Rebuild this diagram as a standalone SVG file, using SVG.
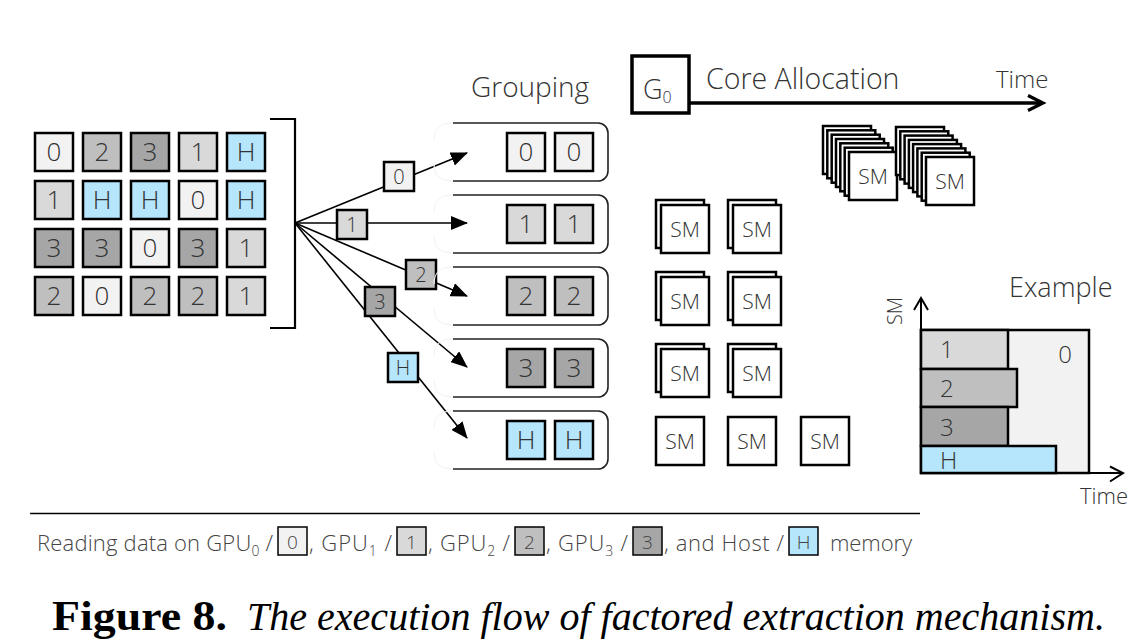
<svg xmlns="http://www.w3.org/2000/svg" xmlns:xlink="http://www.w3.org/1999/xlink" width="1148" height="644" viewBox="0 0 1148 644">
<style>
  .t { font-family: "Open Sans", "Noto Sans", "Liberation Sans", sans-serif; font-weight: 300; fill: #333; }
  .cell { stroke: #000; stroke-width: 2.5; }
  .c0 { fill: #f2f2f2; } .c1 { fill: #d9d9d9; } .c2 { fill: #bfbfbf; } .c3 { fill: #a6a6a6; } .cH { fill: #b5e6fb; }
  .d { font-size: 26px; text-anchor: middle; }
  .lb { font-size: 20px; text-anchor: middle; }
  .sm { fill: #fff; stroke: #000; stroke-width: 2.5; }
  .smt { font-size: 21px; text-anchor: middle; }
  .grp { fill: none; stroke: #222; stroke-width: 1.6; }
  .grpf { fill: none; stroke: #f3f3f3; stroke-width: 1.2; }
  .fan { stroke: #000; stroke-width: 1.6; fill: none; }
  .ax { stroke: #000; stroke-width: 2; fill: none; }
  .lg { font-size: 22px; fill: #444; }
  .lgb { font-size: 19px; fill: #444; text-anchor: middle; }
  .sub { font-size: 14px; }
  .lbox { stroke: #000; stroke-width: 1.5; }
</style>
<defs>
  <marker id="ah" markerUnits="userSpaceOnUse" markerWidth="18" markerHeight="14" refX="16" refY="7" orient="auto">
    <path d="M0,0 L17,7 L0,14 z" fill="#000"/>
  </marker>
  <rect id="sq" width="48" height="48" class="sm"/>
  <g id="smb"><rect width="48" height="48" class="sm"/><text x="24" y="32" class="t smt">SM</text></g>
</defs>

<!-- Data grid -->
<g id="grid">
  <rect x="35" y="133" width="38" height="38" class="cell c0"/><text x="54" y="161" class="t d">0</text>
  <rect x="83" y="133" width="38" height="38" class="cell c2"/><text x="102" y="161" class="t d">2</text>
  <rect x="131" y="133" width="38" height="38" class="cell c3"/><text x="150" y="161" class="t d">3</text>
  <rect x="179" y="133" width="38" height="38" class="cell c1"/><text x="198" y="161" class="t d">1</text>
  <rect x="227" y="133" width="38" height="38" class="cell cH"/><text x="246" y="161" class="t d">H</text>

  <rect x="35" y="181" width="38" height="38" class="cell c1"/><text x="54" y="209" class="t d">1</text>
  <rect x="83" y="181" width="38" height="38" class="cell cH"/><text x="102" y="209" class="t d">H</text>
  <rect x="131" y="181" width="38" height="38" class="cell cH"/><text x="150" y="209" class="t d">H</text>
  <rect x="179" y="181" width="38" height="38" class="cell c0"/><text x="198" y="209" class="t d">0</text>
  <rect x="227" y="181" width="38" height="38" class="cell cH"/><text x="246" y="209" class="t d">H</text>

  <rect x="35" y="229" width="38" height="38" class="cell c3"/><text x="54" y="257" class="t d">3</text>
  <rect x="83" y="229" width="38" height="38" class="cell c3"/><text x="102" y="257" class="t d">3</text>
  <rect x="131" y="229" width="38" height="38" class="cell c0"/><text x="150" y="257" class="t d">0</text>
  <rect x="179" y="229" width="38" height="38" class="cell c3"/><text x="198" y="257" class="t d">3</text>
  <rect x="227" y="229" width="38" height="38" class="cell c1"/><text x="246" y="257" class="t d">1</text>

  <rect x="35" y="277" width="38" height="38" class="cell c2"/><text x="54" y="305" class="t d">2</text>
  <rect x="83" y="277" width="38" height="38" class="cell c0"/><text x="102" y="305" class="t d">0</text>
  <rect x="131" y="277" width="38" height="38" class="cell c2"/><text x="150" y="305" class="t d">2</text>
  <rect x="179" y="277" width="38" height="38" class="cell c2"/><text x="198" y="305" class="t d">2</text>
  <rect x="227" y="277" width="38" height="38" class="cell c1"/><text x="246" y="305" class="t d">1</text>
</g>

<!-- Bracket -->
<g id="bracket">
  <path d="M270,119 H295 V328 H270" fill="none" stroke="#000" stroke-width="2.2"/>
</g>

<!-- Connectors -->
<g id="connectors">
  <line x1="295" y1="223" x2="467" y2="153" class="fan" marker-end="url(#ah)"/>
  <line x1="295" y1="223" x2="467" y2="223" class="fan" marker-end="url(#ah)"/>
  <line x1="295" y1="223" x2="467" y2="296" class="fan" marker-end="url(#ah)"/>
  <line x1="295" y1="223" x2="467" y2="367" class="fan" marker-end="url(#ah)"/>
  <line x1="295" y1="223" x2="467" y2="438" class="fan" marker-end="url(#ah)"/>
</g>

<!-- Connector labels -->
<g id="fan-labels">
  <rect x="384" y="162" width="30" height="29" class="cell c0" stroke-width="2"/><text x="399" y="184" class="t lb">0</text>
  <rect x="337" y="210" width="30" height="29" class="cell c1" stroke-width="2"/><text x="352" y="232" class="t lb">1</text>
  <rect x="406" y="260" width="30" height="29" class="cell c2" stroke-width="2"/><text x="421" y="282" class="t lb">2</text>
  <rect x="365" y="287" width="30" height="29" class="cell c3" stroke-width="2"/><text x="380" y="309" class="t lb">3</text>
  <rect x="388" y="353" width="30" height="29" class="cell cH" stroke-width="2"/><text x="403" y="375" class="t lb">H</text>
</g>

<!-- Grouping -->
<text x="471" y="97" class="t" font-size="28">Grouping</text>
<g id="group0">
  <path d="M453,123 C440,123 434,128 434,140" class="grpf"/><path d="M453,181 C440,181 434,176 434,164" class="grpf"/>
  <path d="M453,123 H598 A10,10 0 0 1 608,133 V171 A10,10 0 0 1 598,181 H453" class="grp"/>
  <rect x="507" y="133" width="38" height="38" class="cell c0"/><text x="526" y="161" class="t d">0</text>
  <rect x="555" y="133" width="38" height="38" class="cell c0"/><text x="574" y="161" class="t d">0</text>
</g>
<g id="group1">
  <path d="M453,195 C440,195 434,200 434,212" class="grpf"/><path d="M453,253 C440,253 434,248 434,236" class="grpf"/>
  <path d="M453,195 H598 A10,10 0 0 1 608,205 V243 A10,10 0 0 1 598,253 H453" class="grp"/>
  <rect x="507" y="205" width="38" height="38" class="cell c1"/><text x="526" y="233" class="t d">1</text>
  <rect x="555" y="205" width="38" height="38" class="cell c1"/><text x="574" y="233" class="t d">1</text>
</g>
<g id="group2">
  <path d="M453,267 C440,267 434,272 434,284" class="grpf"/><path d="M453,325 C440,325 434,320 434,308" class="grpf"/>
  <path d="M453,267 H598 A10,10 0 0 1 608,277 V315 A10,10 0 0 1 598,325 H453" class="grp"/>
  <rect x="507" y="277" width="38" height="38" class="cell c2"/><text x="526" y="305" class="t d">2</text>
  <rect x="555" y="277" width="38" height="38" class="cell c2"/><text x="574" y="305" class="t d">2</text>
</g>
<g id="group3">
  <path d="M453,339 C440,339 434,344 434,356" class="grpf"/><path d="M453,397 C440,397 434,392 434,380" class="grpf"/>
  <path d="M453,339 H598 A10,10 0 0 1 608,349 V387 A10,10 0 0 1 598,397 H453" class="grp"/>
  <rect x="507" y="349" width="38" height="38" class="cell c3"/><text x="526" y="377" class="t d">3</text>
  <rect x="555" y="349" width="38" height="38" class="cell c3"/><text x="574" y="377" class="t d">3</text>
</g>
<g id="groupH">
  <path d="M453,411 C440,411 434,416 434,428" class="grpf"/><path d="M453,469 C440,469 434,464 434,452" class="grpf"/>
  <path d="M453,411 H598 A10,10 0 0 1 608,421 V459 A10,10 0 0 1 598,469 H453" class="grp"/>
  <rect x="507" y="421" width="38" height="38" class="cell cH"/><text x="526" y="449" class="t d">H</text>
  <rect x="555" y="421" width="38" height="38" class="cell cH"/><text x="574" y="449" class="t d">H</text>
</g>

<!-- Core allocation header -->
<g id="g0">
  <rect x="632" y="56" width="57" height="57" fill="#fff" stroke="#000" stroke-width="3.5"/>
  <text x="643" y="99" class="t" font-size="27">G<tspan font-size="16" dy="4">0</tspan></text>
</g>
<text x="706" y="89" class="t" font-size="28.5">Core Allocation</text>
<text x="996" y="88" class="t" font-size="24">Time</text>
<g id="time-arrow">
  <line x1="690" y1="103" x2="1042" y2="103" stroke="#000" stroke-width="3.5"/>
  <path d="M1028,95.5 L1043,103 L1028,110.5" fill="none" stroke="#000" stroke-width="3.2"/>
</g>

<!-- SM stacks (top) -->
<g id="stack-a">
  <use xlink:href="#sq" x="823" y="126"/><use xlink:href="#sq" x="827.3" y="130.3"/><use xlink:href="#sq" x="831.7" y="134.7"/>
  <use xlink:href="#sq" x="836" y="139"/><use xlink:href="#sq" x="840.3" y="143.3"/><use xlink:href="#sq" x="844.7" y="147.7"/>
  <use xlink:href="#smb" x="849" y="152"/>
</g>
<g id="stack-b">
  <use xlink:href="#sq" x="896" y="127"/><use xlink:href="#sq" x="900.3" y="131.3"/><use xlink:href="#sq" x="904.6" y="135.6"/>
  <use xlink:href="#sq" x="908.9" y="139.9"/><use xlink:href="#sq" x="913.1" y="144.1"/><use xlink:href="#sq" x="917.4" y="148.4"/>
  <use xlink:href="#sq" x="921.7" y="152.7"/>
  <use xlink:href="#smb" x="926" y="157"/>
</g>

<!-- SM grid -->
<g id="sm-row1">
  <use xlink:href="#sq" x="656" y="200"/><use xlink:href="#smb" x="661" y="205"/>
  <use xlink:href="#sq" x="728" y="200"/><use xlink:href="#smb" x="733" y="205"/>
</g>
<g id="sm-row2">
  <use xlink:href="#sq" x="656" y="272"/><use xlink:href="#smb" x="661" y="277"/>
  <use xlink:href="#sq" x="728" y="272"/><use xlink:href="#smb" x="733" y="277"/>
</g>
<g id="sm-row3">
  <use xlink:href="#sq" x="656" y="344"/><use xlink:href="#smb" x="661" y="349"/>
  <use xlink:href="#sq" x="728" y="344"/><use xlink:href="#smb" x="733" y="349"/>
</g>
<g id="sm-row4">
  <use xlink:href="#smb" x="656" y="417"/>
  <use xlink:href="#smb" x="728" y="417"/>
  <use xlink:href="#smb" x="801" y="417"/>
</g>

<!-- Example chart -->
<g id="example">
  <text x="1009" y="297" class="t" font-size="27">Example</text>
  <rect x="921" y="330" width="168" height="143" fill="#f2f2f2" stroke="#000" stroke-width="2.5"/>
  <rect x="921" y="330" width="87" height="39" class="cell c1"/>
  <rect x="921" y="369" width="96" height="38" class="cell c2"/>
  <rect x="921" y="407" width="87" height="39" class="cell c3"/>
  <rect x="921" y="446" width="135" height="27" class="cell cH"/>
  <text x="1065" y="363" class="t" font-size="24" text-anchor="middle">0</text>
  <text x="940" y="358" class="t" font-size="24">1</text>
  <text x="940" y="397" class="t" font-size="24">2</text>
  <text x="940" y="436" class="t" font-size="24">3</text>
  <text x="940" y="469" class="t" font-size="24">H</text>
  <path d="M921,474 V299" class="ax"/>
  <path d="M914,310 L921,298 L928,310" class="ax"/>
  <path d="M921,473 H1122" class="ax"/>
  <path d="M1110,466.5 L1123,473 L1110,481.5" class="ax"/>
  <text x="0" y="0" class="t" font-size="20" text-anchor="middle" transform="translate(902,311) rotate(-90)">SM</text>
  <text x="1080" y="504" class="t" font-size="22">Time</text>
</g>

<!-- Divider -->
<line x1="30" y1="513.5" x2="920" y2="513.5" stroke="#000" stroke-width="1.3"/>

<!-- Legend -->
<g id="legend">
  <text x="37" y="551" class="t lg" textLength="236">Reading data on GPU<tspan class="sub" dy="5">0</tspan><tspan dy="-5"> /</tspan></text>
  <rect x="278" y="527" width="29" height="28" class="c0 lbox"/><text x="292.5" y="549" class="t lgb">0</text>
  <text x="309" y="551" class="t lg" textLength="83">, GPU<tspan class="sub" dy="5">1</tspan><tspan dy="-5"> /</tspan></text>
  <rect x="397" y="527" width="29" height="28" class="c1 lbox"/><text x="411.5" y="549" class="t lgb">1</text>
  <text x="428" y="551" class="t lg" textLength="82">, GPU<tspan class="sub" dy="5">2</tspan><tspan dy="-5"> /</tspan></text>
  <rect x="515" y="527" width="29" height="28" class="c2 lbox"/><text x="529.5" y="549" class="t lgb">2</text>
  <text x="546" y="551" class="t lg" textLength="82">, GPU<tspan class="sub" dy="5">3</tspan><tspan dy="-5"> /</tspan></text>
  <rect x="633" y="527" width="29" height="28" class="c3 lbox"/><text x="647.5" y="549" class="t lgb">3</text>
  <text x="664" y="551" class="t lg" textLength="120">, and Host /</text>
  <rect x="789" y="527" width="29" height="28" class="cH lbox"/><text x="803.5" y="549" class="t lgb">H</text>
  <text x="830" y="551" class="t lg" textLength="82">memory</text>
</g>

<!-- Caption -->
<g id="caption">
  <text x="52" y="630" font-family="'Liberation Serif', serif" font-weight="bold" font-size="42" fill="#000" textLength="175" lengthAdjust="spacingAndGlyphs">Figure 8.</text>
  <text x="247" y="630" font-family="'Liberation Serif', serif" font-style="italic" font-size="40" fill="#000" textLength="858" lengthAdjust="spacingAndGlyphs">The execution flow of factored extraction mechanism.</text>
</g>
</svg>
